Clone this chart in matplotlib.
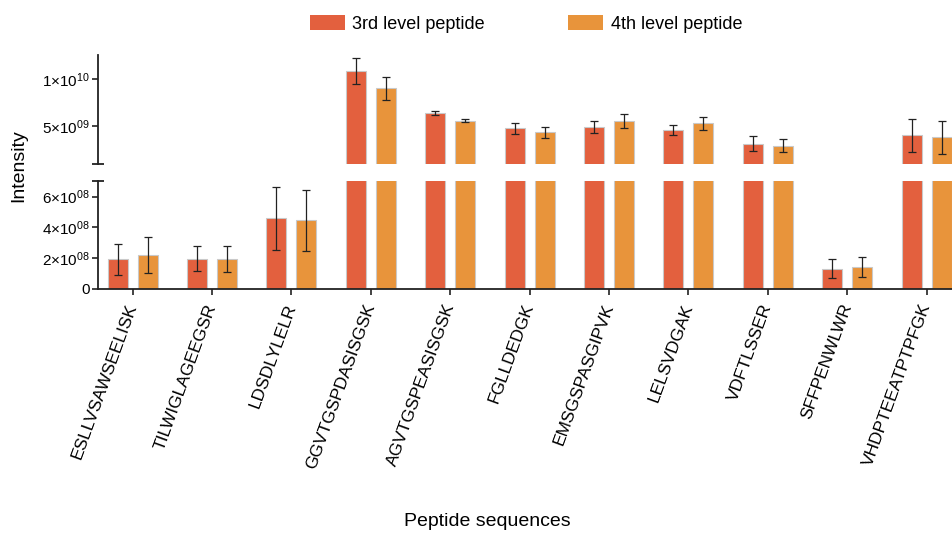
import matplotlib
matplotlib.use("Agg")
import matplotlib.pyplot as plt
import numpy as np
from matplotlib.patches import Patch

plt.rcParams['font.family'] = ['Liberation Sans', 'DejaVu Sans']
plt.rcParams['mathtext.fontset'] = 'custom'
plt.rcParams['mathtext.rm'] = 'Liberation Sans'
plt.rcParams['mathtext.it'] = 'Liberation Sans'
plt.rcParams['mathtext.bf'] = 'Liberation Sans'

peptides = ['ESLLVSAWSEELISK', 'TILWIGLAGEEGSR', 'LDSDLYLELR', 'GGVTGSPDASISGSK',
            'AGVTGSPEASISGSK', 'FGLLDEDGK', 'EMSGSPASGIPVK', 'LELSVDGAK',
            'VDFTLSSER', 'SFFPENWLWR', 'VHDPTEEATPTPFGK']
level3 = [1.93e8, 1.97e8, 4.59e8, 1.088e10, 6.41e9, 4.79e9, 4.97e9, 4.61e9, 3.16e9, 1.32e8, 4.04e9]
level3_err = [1.0e8, 0.83e8, 2.05e8, 1.4e9, 0.2e9, 0.57e9, 0.63e9, 0.58e9, 0.8e9, 0.6e8, 1.78e9]
level4 = [2.23e8, 1.95e8, 4.46e8, 9.04e9, 5.6e9, 4.36e9, 5.56e9, 5.32e9, 2.95e9, 1.43e8, 3.83e9]
level4_err = [1.18e8, 0.82e8, 1.96e8, 1.2e9, 0.15e9, 0.55e9, 0.76e9, 0.69e9, 0.72e9, 0.65e8, 1.73e9]
series_names = ['3rd level peptide', '4th level peptide']

upper_ticks = [5e9, 1e10]
upper_labels = [r'$\mathregular{5{\times}10^{09}}$', r'$\mathregular{1{\times}10^{10}}$']
lower_ticks = [0, 2e8, 4e8, 6e8]
lower_labels = ['0', r'$\mathregular{2{\times}10^{08}}$', r'$\mathregular{4{\times}10^{08}}$',
                r'$\mathregular{6{\times}10^{08}}$']

c3 = '#E3603E'
c4 = '#E8943B'
edge = '#c9c9c9'
spine_c = '#222222'

W, H = 952, 536
fig = plt.figure(figsize=(W / 100, H / 100), dpi=100)

left = 98 / W
width = (W - 98) / W
ax_lo = fig.add_axes([left, (H - 289) / H, width, (289 - 181.3) / H])
ax_hi = fig.add_axes([left, (H - 164) / H, width, (164 - 54.7) / H])

x = np.arange(len(peptides))
off = 0.189
bw = 0.252
for ax in (ax_lo, ax_hi):
    ax.bar(x - off, level3, bw, color=c3, edgecolor=edge, linewidth=0.8, zorder=2)
    ax.bar(x + off, level4, bw, color=c4, edgecolor=edge, linewidth=0.8, zorder=2)
    ax.errorbar(x - off, level3, yerr=level3_err, fmt='none', ecolor='#222222',
                elinewidth=0.9, capsize=3, capthick=0.9, zorder=3)
    ax.errorbar(x + off, level4, yerr=level4_err, fmt='none', ecolor='#222222',
                elinewidth=0.9, capsize=3, capthick=0.9, zorder=3)
    ax.set_xlim(-0.436, 10.319)
    for s in ('top', 'right'):
        ax.spines[s].set_visible(False)
    ax.spines['left'].set_color(spine_c)
    ax.spines['left'].set_linewidth(1.3)
    ax.spines['bottom'].set_color(spine_c)
    ax.spines['bottom'].set_linewidth(1.3)
    ax.tick_params(axis='y', direction='out', length=4.5, width=1.2, color=spine_c,
                   labelsize=11, pad=1)
    ax.patch.set_alpha(0)

ax_hi.set_ylim(1e9, 1.26e10)
ax_hi.spines['bottom'].set_visible(False)
ax_hi.set_xticks([])
ax_hi.set_yticks(upper_ticks)
ax_hi.set_yticklabels(upper_labels)

ax_lo.set_ylim(0, 7e8)
ax_lo.set_yticks(lower_ticks)
ax_lo.set_yticklabels(lower_labels)
ax_lo.set_xticks(x)
ax_lo.set_xticklabels(peptides, rotation=70, ha='right', va='center',
                      rotation_mode='anchor', fontsize=12.5)
ax_lo.tick_params(axis='x', direction='out', length=4, width=1.2, color=spine_c, pad=7)

# break caps on the left spine
for ax, yv in ((ax_hi, 0.0), (ax_lo, 1.0)):
    ax.plot([-6 / 854, 6 / 854], [yv, yv], transform=ax.transAxes, color=spine_c,
            lw=1.3, clip_on=False, solid_capstyle='butt')

fig.text(19 / W, 1 - 166 / H, 'Intensity', rotation=90, fontsize=14,
         ha='center', va='center')
fig.text(487.5 / W, 1 - 526 / H, 'Peptide sequences', fontsize=14,
         ha='center', va='baseline')

handles = [Patch(facecolor=c3, edgecolor='none'), Patch(facecolor=c4, edgecolor='none')]
fig.legend(handles, series_names, loc='center', bbox_to_anchor=(526 / W, 1 - 24 / H),
           ncol=2, frameon=False, fontsize=13, handlelength=1.95, handleheight=0.85,
           handletextpad=0.4, columnspacing=4.6, borderpad=0)

fig.savefig('out.png', dpi=100)
